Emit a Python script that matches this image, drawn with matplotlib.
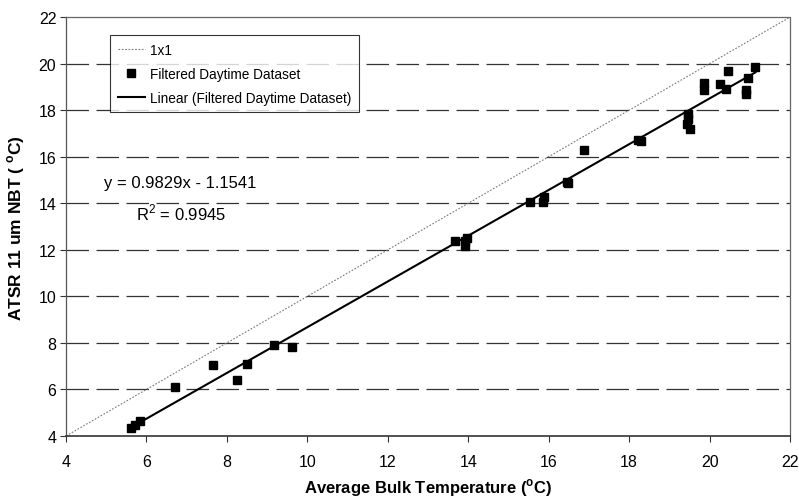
import matplotlib
matplotlib.use("Agg")
import matplotlib.pyplot as plt
import numpy as np

plt.rcParams['font.family'] = ['Liberation Sans', 'DejaVu Sans']

# Filtered daytime dataset
bulk_temp = [5.62, 5.72, 5.84, 6.71, 7.65, 8.25, 8.49, 9.16, 9.61,
             13.68, 13.93, 13.97, 13.92, 15.54, 15.87, 15.89, 16.47, 16.45,
             16.87, 18.22, 18.30, 19.44, 19.46, 19.46, 19.52,
             19.85, 19.87, 20.25, 20.40, 20.46, 20.90, 20.90, 20.96, 21.14]
atsr_nbt = [4.33, 4.47, 4.66, 6.12, 7.06, 6.41, 7.09, 7.92, 7.81,
            12.39, 12.17, 12.52, 12.38, 14.06, 14.06, 14.25, 14.85, 14.90,
            16.29, 16.70, 16.66, 17.40, 17.62, 17.83, 17.17,
            19.15, 18.88, 19.12, 18.90, 19.67, 18.86, 18.69, 19.38, 19.84]

slope = 0.9829
intercept = -1.1541
r_squared = 0.9945

ticks = [4, 6, 8, 10, 12, 14, 16, 18, 20, 22]
one_to_one = [4, 22]

fig = plt.figure(figsize=(7.99, 5.02), dpi=100)
ax = fig.add_axes([0.0826, 0.1295, 0.9062, 0.8345])

ax.set_xlim(4, 22)
ax.set_ylim(4, 22)

# dashed horizontal gridlines
for t in ticks[1:-1]:
    ax.axhline(t, color='#333333', lw=0.9, dashes=(18, 6), zorder=1)

# 1x1 line
ax.plot(one_to_one, one_to_one, color='#777777', lw=0.8, ls=(0, (1.5, 1.5)),
        label='1x1', zorder=2)
# data
ax.plot(bulk_temp, atsr_nbt, ls='none', marker='s', ms=6.2, color='black',
        label='Filtered Daytime Dataset', zorder=4)
# trend line
xs = np.array([min(bulk_temp), max(bulk_temp)])
ax.plot(xs, slope * xs + intercept, color='black', lw=1.5,
        label='Linear (Filtered Daytime Dataset)', zorder=3)

ax.set_xticks(ticks)
ax.set_yticks(ticks)
ax.tick_params(direction='out', length=4, width=0.8, labelsize=11.5,
               color='#333333', pad=9)
ax.tick_params(axis='y', pad=3)

for side in ['top', 'right']:
    ax.spines[side].set_linestyle((0, (1, 1)))
    ax.spines[side].set_color('#666666')
    ax.spines[side].set_linewidth(0.9)
ax.spines['left'].set_color('#555555')
ax.spines['left'].set_linewidth(0.9)
ax.spines['bottom'].set_color('#333333')
ax.spines['bottom'].set_linewidth(1.2)

ax.set_xlabel('Average Bulk Temperature ($^{\\mathregular{o}}$C)', fontsize=12,
              fontweight='bold', labelpad=5)
ax.set_ylabel('ATSR 11 um NBT ( $^{\\mathregular{o}}$C)', fontsize=12.5,
              fontweight='bold', labelpad=8)

leg = ax.legend(loc='upper left', bbox_to_anchor=(0.061, 0.957), fontsize=9.8,
                frameon=True, fancybox=False, edgecolor='black',
                handlelength=2.0, handletextpad=0.4, borderpad=0.55,
                labelspacing=0.75, borderaxespad=0)
leg.get_frame().set_linewidth(0.8)

ax.text(0.052, 0.606, f'y = {slope}x - {abs(intercept)}', transform=ax.transAxes,
        fontsize=12, ha='left', va='center')
ax.text(0.097, 0.535, f'R$^{{\\mathregular{{2}}}}$ = {r_squared}', transform=ax.transAxes,
        fontsize=12, ha='left', va='center')

fig.savefig('out.png', dpi=100)
